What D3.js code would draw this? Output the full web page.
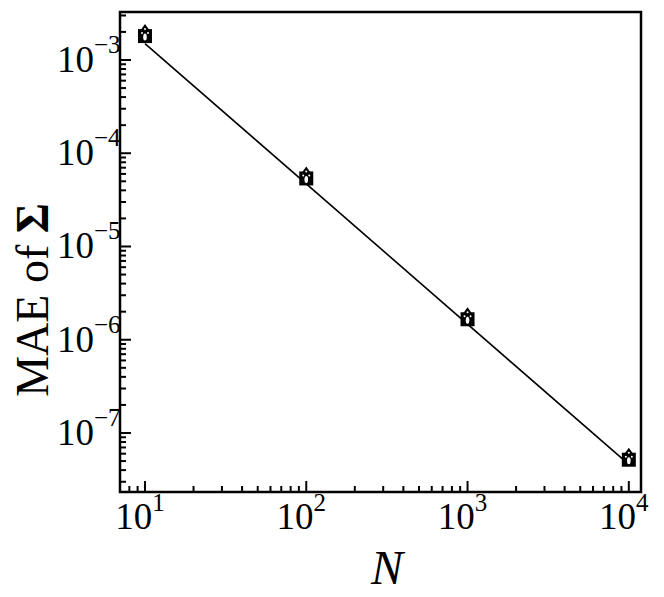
<!DOCTYPE html>
<html>
<head>
<meta charset="utf-8">
<script src="https://cdnjs.cloudflare.com/ajax/libs/d3/7.8.5/d3.min.js"></script>
<style>
  body { margin: 0; background: #fff; }
</style>
</head>
<body>
<div id="chart"></div>
<script>
// sample sizes and measured error
var nValues = [10, 100, 1000, 10000];
var maeValues = [1.85e-3, 5.5e-5, 1.7e-6, 5.3e-8];
// reference slope line end points
var refN = [10, 10000];
var refMae = [1.5e-3, 4.6e-8];
var xTickExp = [1, 2, 3, 4];
var yTickExp = [-3, -4, -5, -6, -7];

var width = 664;
var height = 597;
var pLeft = 120, pRight = 641, pTop = 12, pBottom = 492;
var serif = "Liberation Serif";

var svg = d3
  .select("#chart")
  .append("svg")
  .attr("width", width)
  .attr("height", height);

var xScale = d3.scaleLog().domain([7.0, 11900]).range([pLeft, pRight]);
var yScale = d3.scaleLog().domain([3.27e-3, 2.33e-8]).range([pTop, pBottom]);

// minor + major ticks
function logTicks(lo, hi) {
  var t = [];
  for (var e = Math.floor(Math.log10(lo)); e <= Math.ceil(Math.log10(hi)); e++) {
    for (var m = 1; m < 10; m++) {
      var v = m * Math.pow(10, e);
      if (v >= lo && v <= hi) t.push({ v: v, major: m === 1 });
    }
  }
  return t;
}

var xt = logTicks(7.0, 11900);
svg.selectAll("line.xtick")
  .data(xt)
  .enter()
  .append("line")
  .attr("x1", function(d) { return xScale(d.v); })
  .attr("x2", function(d) { return xScale(d.v); })
  .attr("y1", pBottom)
  .attr("y2", function(d) { return pBottom - (d.major ? 11 : 6); })
  .attr("stroke", "#000")
  .attr("stroke-width", 2);

var yt = logTicks(2.33e-8, 3.27e-3);
svg.selectAll("line.ytick")
  .data(yt)
  .enter()
  .append("line")
  .attr("y1", function(d) { return yScale(d.v); })
  .attr("y2", function(d) { return yScale(d.v); })
  .attr("x1", pLeft)
  .attr("x2", function(d) { return pLeft + (d.major ? 11 : 6); })
  .attr("stroke", "#000")
  .attr("stroke-width", 2);

// tick labels
var xl = svg.selectAll("text.xl")
  .data(xTickExp)
  .enter()
  .append("text")
  .attr("font-family", serif)
  .attr("x", function(d) { return xScale(Math.pow(10, d)) - 5; })
  .attr("y", 529)
  .attr("text-anchor", "middle")
  .attr("font-size", 37);
xl.append("tspan").text("10");
xl.append("tspan").attr("dy", -18).attr("font-size", 25).text(function(d) { return d; });

var yl = svg.selectAll("text.yl")
  .data(yTickExp)
  .enter()
  .append("text")
  .attr("font-family", serif)
  .attr("x", 57)
  .attr("y", function(d) { return yScale(Math.pow(10, d)) + 12; })
  .attr("text-anchor", "start")
  .attr("font-size", 37);
yl.append("tspan").text("10");
yl.append("tspan").attr("dy", -19).attr("font-size", 25).text(function(d) { return "\u2212" + Math.abs(d); });

// reference line
var line = d3.line()
  .x(function(d, i) { return xScale(refN[i]); })
  .y(function(d) { return yScale(d); });
svg.append("path")
  .attr("d", line(refMae))
  .attr("fill", "none")
  .attr("stroke", "#000")
  .attr("stroke-width", 1.6);

// overlapping markers
var pts = nValues.map(function(n, i) { return { n: n, v: maeValues[i] }; });
var g = svg.selectAll("g.pt")
  .data(pts)
  .enter()
  .append("g")
  .attr("transform", function(d) {
    return "translate(" + xScale(d.n) + "," + yScale(d.v) + ")";
  });
g.append("rect")
  .attr("x", -7).attr("y", -6).attr("width", 14).attr("height", 14)
  .attr("fill", "#000");
g.append("path")
  .attr("d", "M0,-11 L-5,-4 L5,-4 Z")
  .attr("fill", "#000");
g.append("ellipse")
  .attr("cx", 0).attr("cy", 2).attr("rx", 1.8).attr("ry", 3.5)
  .attr("fill", "#fff");
g.append("circle")
  .attr("cx", -3).attr("cy", -2).attr("r", 1)
  .attr("fill", "#fff");
g.append("circle")
  .attr("cx", 3).attr("cy", -2).attr("r", 1)
  .attr("fill", "#fff");
g.append("circle")
  .attr("cx", 0).attr("cy", -6).attr("r", 1)
  .attr("fill", "#fff");

// frame
svg.append("rect")
  .attr("x", pLeft).attr("y", pTop)
  .attr("width", pRight - pLeft).attr("height", pBottom - pTop)
  .attr("fill", "none")
  .attr("stroke", "#000")
  .attr("stroke-width", 2.5);

// axis titles
svg.append("text")
  .attr("font-family", serif)
  .attr("x", 387)
  .attr("y", 584)
  .attr("text-anchor", "middle")
  .attr("font-size", 48)
  .attr("font-style", "italic")
  .text("N");

var yTitle = svg.append("text")
  .attr("font-family", serif)
  .attr("transform", "translate(48,300)rotate(-90)")
  .attr("text-anchor", "middle")
  .attr("font-size", 46);
yTitle.append("tspan").text("MAE of ");
yTitle.append("tspan").attr("font-weight", "bold").text("\u03A3");
</script>
</body>
</html>
